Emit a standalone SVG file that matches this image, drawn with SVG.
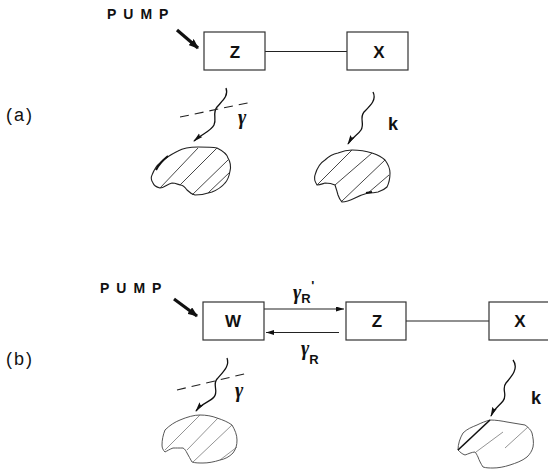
<svg xmlns="http://www.w3.org/2000/svg" width="548" height="471" viewBox="0 0 548 471">
<style>
.box{fill:#fff;stroke:#333;stroke-width:1.2}
.ln{fill:none;stroke:#222;stroke-width:1.1}
.lbl{font-family:"Liberation Sans",Arial,sans-serif;font-weight:bold;fill:#111}
.pump{font-family:"Liberation Sans",Arial,sans-serif;font-weight:bold;font-size:14px;letter-spacing:7px;fill:#111}
.part{font-family:"Liberation Sans",Arial,sans-serif;font-size:18px;letter-spacing:2px;fill:#111}
.gam{font-family:"Liberation Serif","DejaVu Serif",serif;font-style:italic;font-weight:bold;font-size:20px;fill:#111}
.sub{font-family:"Liberation Sans",Arial,sans-serif;font-style:normal;font-weight:bold;font-size:13px}
.wave{fill:none;stroke:#111;stroke-width:1.3}
.dash{fill:none;stroke:#222;stroke-width:1.1;stroke-dasharray:9 6}
.blob{fill:#fff;stroke:#222;stroke-width:1.1}
.hatch{fill:none;stroke:#333;stroke-width:0.9}
.blobb{fill:#fff;stroke:#444;stroke-width:0.9}
.hatchb{fill:none;stroke:#666;stroke-width:0.7}
.thick{stroke:#111;stroke-width:3.2;fill:none}
</style>
<defs>
<marker id="ah" viewBox="0 0 10 6" refX="9" refY="3" markerWidth="10" markerHeight="6" markerUnits="userSpaceOnUse" orient="auto">
<path d="M0,0.6 L10,3 L0,5.4 L1.5,3z" fill="#111"/>
</marker>
<marker id="ahb" viewBox="0 0 10 8" refX="9" refY="4" markerWidth="10" markerHeight="8" markerUnits="userSpaceOnUse" orient="auto">
<path d="M0,0 L10,4 L0,8 z" fill="#111"/>
</marker>
<marker id="ahs" viewBox="0 0 8 5" refX="8" refY="2.5" markerWidth="8" markerHeight="5" markerUnits="userSpaceOnUse" orient="auto">
<path d="M0,0 L8,2.5 L0,5 z" fill="#111"/>
</marker>
</defs>

<g id="labels">
<text class="part" x="6" y="121">(a)</text>
<text class="part" x="6" y="365">(b)</text>
</g>

<g id="connectors">
<line class="ln" x1="265" y1="51.5" x2="347" y2="51.5"/>
<line class="ln" x1="406" y1="321" x2="489" y2="321"/>
<line class="ln" x1="264" y1="309" x2="344" y2="309" marker-end="url(#ahs)"/>
<line class="ln" x1="339" y1="332.5" x2="266" y2="332.5" marker-end="url(#ahs)"/>
<line class="thick" x1="177" y1="30" x2="198" y2="48" marker-end="url(#ahb)"/>
<line class="thick" x1="174" y1="299" x2="197" y2="316" marker-end="url(#ahb)"/>
<path class="wave" d="M226,88 C229,96 222,101 217,107 C212,113 217,119 214,125 C211,131 202,134 194,141" marker-end="url(#ah)"/>
<path class="wave" d="M373,92 C377,100 370,106 364,112 C359,118 365,124 361,130 C358,135 352,137 348,144" marker-end="url(#ah)"/>
<path class="wave" d="M227,358 C230,366 223,372 217,379 C212,385 219,391 214,397 C210,402 202,403 196,411" marker-end="url(#ah)"/>
<path class="wave" d="M513,360 C519,368 512,376 506,383 C501,389 508,395 503,401 C499,406 494,409 491,416" marker-end="url(#ah)"/>
<line class="dash" x1="180" y1="117" x2="252" y2="102"/>
<line class="dash" x1="177" y1="390" x2="248" y2="373"/>
</g>

<g id="pump-a"><text class="pump" x="107" y="19">PUMP</text></g>
<g id="pump-b"><text class="pump" x="100" y="293">PUMP</text></g>

<g id="node-z-a">
<rect class="box" x="204" y="32" width="61" height="38"/>
<text class="lbl" x="235" y="57.5" font-size="17" text-anchor="middle">Z</text>
</g>
<g id="node-x-a">
<rect class="box" x="347" y="32" width="61" height="38"/>
<text class="lbl" x="379" y="57.5" font-size="17" text-anchor="middle">X</text>
</g>
<g id="node-w-b">
<rect class="box" x="203" y="302" width="61" height="38"/>
<text class="lbl" x="233" y="327" font-size="17" text-anchor="middle">W</text>
</g>
<g id="node-z-b">
<rect class="box" x="346" y="302" width="60" height="38"/>
<text class="lbl" x="377" y="327" font-size="17" text-anchor="middle">Z</text>
</g>
<g id="node-x-b">
<rect class="box" x="489" y="302" width="70" height="38"/>
<text class="lbl" x="520" y="327" font-size="17" text-anchor="middle">X</text>
</g>

<g id="rate-labels">
<text class="gam" x="238" y="124">γ</text>
<text class="lbl" x="388" y="130" font-size="18">k</text>
<text class="gam" x="235" y="397">γ</text>
<text class="lbl" x="531" y="404" font-size="18">k</text>
<text class="gam" x="293" y="299">γ<tspan class="sub" dy="4">R</tspan><tspan class="sub" font-weight="normal" font-size="11" dx="0.5" dy="-13">'</tspan></text>
<text class="gam" x="301" y="355">γ<tspan class="sub" dx="0" dy="9">R</tspan></text>
</g>

<g id="blob-a1">
<path class="blob" d="M178,151 C185,147 192,147 198,147 C206,147 212,147 217,148 C223,151 227,154 228,158 C231,163 231,167 230,171 C229,177 228,180 225,183 C221,188 217,190 212,192 C206,194 200,195 195,195 C191,194 189,192 187,190 C185,187 183,185 180,185 C177,184 175,183 172,183 C167,184 164,188 160,188 C156,187 154,186 153,183 C151,180 151,177 152,175 C154,170 156,166 160,163 C165,158 172,154 178,151 Z"/>
<path class="hatch" d="M160,188 L198,148 M180,185 L217,148 M192,195 L228,160 M208,193 L230,172"/>
<path d="M156,170 C159,164 163,160 168,156" fill="none" stroke="#111" stroke-width="2"/>
</g>
<g id="blob-a2">
<path class="blob" d="M315,175 C317,168 320,163 325,160 C329,156 333,154 338,153 C343,151 347,150 352,150 C359,150 366,151 372,153 C378,155 382,157 385,160 C388,164 390,168 390,173 C390,179 389,183 387,187 C384,190 381,191 378,192 C374,193 371,193 368,193 C364,194 359,196 355,198 C351,200 346,202 342,202 C340,200 339,198 338,195 C337,191 336,188 335,185 C331,183 328,183 325,183 C322,184 320,185 317,185 C315,182 314,178 315,175 Z"/>
<path class="hatch" d="M317,185 L352,150 M335,185 L372,153 M342,201 L385,160 M368,193 L389,175"/>
<path d="M372,192 L366,193" fill="none" stroke="#111" stroke-width="2"/>
</g>
<g id="blob-b1">
<path class="blobb" d="M165,430 C170,425 175,422 180,420 C187,417 194,415 200,415 C206,415 212,416 217,418 C223,420 228,422 232,425 C235,430 237,435 237,440 C237,445 236,449 233,453 C229,457 225,459 220,460 C214,462 208,463 203,463 C199,463 195,463 192,462 C190,459 189,456 187,453 C186,451 185,449 183,448 C179,448 176,448 173,448 C170,449 167,451 165,452 C163,450 162,448 162,445 C162,440 163,435 165,430 Z"/>
<path class="hatchb" d="M165,450 L200,415 M187,450 L218,418 M193,462 L232,425 M220,460 L237,447"/>
</g>
<g id="blob-b2">
<path class="blobb" d="M463,433 C467,429 472,427 477,425 C481,423 486,421 490,420 C496,420 502,421 507,422 C513,423 519,424 525,425 C528,427 531,430 532,433 C533,438 534,442 533,447 C532,451 530,454 527,457 C522,461 516,463 510,465 C504,467 498,468 493,468 C490,468 486,468 483,467 C481,464 479,460 478,457 C477,455 476,453 475,452 C472,452 468,454 465,455 C462,454 460,452 458,450 C458,444 460,438 463,433 Z"/>
<path d="M458,450 L490,420" fill="none" stroke="#111" stroke-width="1.6"/>
<path class="hatchb" d="M476,452 L503,432 M505,448 L528,427"/>
</g>
</svg>
